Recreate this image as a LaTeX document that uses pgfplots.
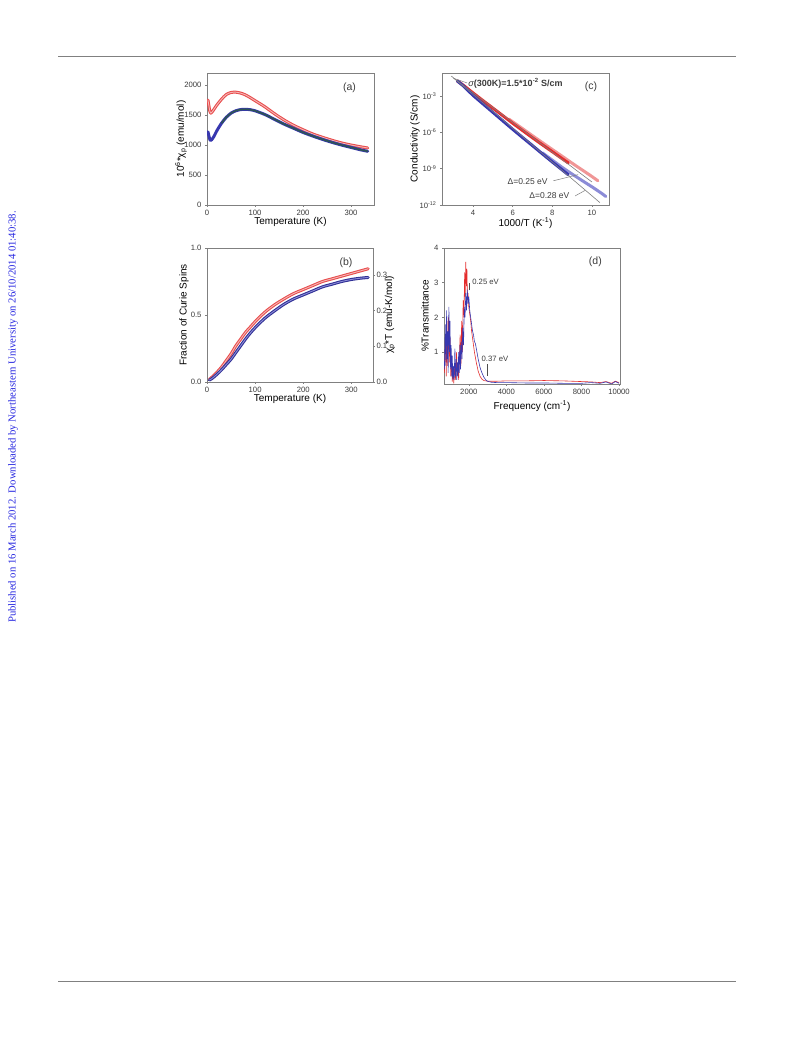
\documentclass[border=0pt]{standalone}
\usepackage{fontspec}
\setmainfont{Liberation Sans}
\newfontfamily\serifside{Liberation Serif}
\usepackage{pgfplots}
\pgfplotsset{compat=1.18}
\definecolor{rd}{RGB}{228,45,45}
\definecolor{rdl}{RGB}{240,150,150}
\definecolor{bl}{RGB}{55,55,175}
\definecolor{bll}{RGB}{140,140,215}
\definecolor{fitc}{RGB}{45,85,85}
\definecolor{txt}{RGB}{60,60,60}
\definecolor{axc}{RGB}{128,128,128}
\definecolor{side}{RGB}{40,40,225}
\pgfplotsset{
 panel/.style={scale only axis, anchor=south west,
  axis line style={axc, line width=0.6pt}, tick style={axc, line width=0.5pt},
  major tick length=2pt, tick align=outside, xtick pos=bottom, ytick pos=left,
  tick label style={font=\fontsize{7.7}{9}\selectfont, text=txt},
  label style={font=\fontsize{9}{10}\selectfont, text=txt},
  /pgf/number format/assume math mode=true, /pgf/number format/1000 sep={},
  scaled ticks=false,
  every axis x label/.style={at={([yshift=-17pt]axis description cs:0.5,0)}, anchor=center},
 },
 ylab/.style={every axis y label/.style={at={([xshift=#1]axis description cs:0,0.5)}, rotate=90, anchor=center}},
 band/.style={line width=3pt, #1, line join=round, line cap=round},
 inner/.style={line width=0.9pt, #1, line join=round, line cap=round},
}
\begin{document}
\begin{tikzpicture}
\useasboundingbox (0pt,0pt) rectangle (793pt,1039pt);
\fill[white] (0pt,0pt) rectangle (793pt,1039pt);
\draw[axc, line width=0.8pt] (58pt,983pt) -- (736pt,983pt);
\draw[axc, line width=0.8pt] (58pt,58pt) -- (736pt,58pt);
\node[rotate=90, text=side, font=\serifside\fontsize{10.7}{12}\selectfont] at (13pt,622pt) {Published on 16 March 2012. Downloaded by Northeastern University on 26/10/2014 01:40:38.};

% ---------------- (a)
\begin{axis}[panel, at={(207pt,834pt)}, width=167pt, height=132pt,
  xmin=0, xmax=348, ymin=0, ymax=2200, xtick={0,100,200,300}, ytick={0,500,1000,1500,2000},
  xlabel={Temperature (K)}, ylabel={10\textsuperscript{6}*χ\textsubscript{p} (emu/mol)}, ylab=-26pt]
\addplot[band=rd!85, smooth] coordinates {(2,1750)(4,1650)(6,1560)(8,1530)(10,1545)(15,1600)(20,1660)(30,1760)(40,1840)(50,1875)(60,1880)(70,1865)(80,1835)(90,1790)(100,1740)(120,1640)(140,1525)(160,1420)(180,1330)(200,1255)(220,1185)(240,1130)(260,1080)(280,1035)(300,1000)(320,970)(335,950)};
\addplot[inner=rdl!70!white, smooth] coordinates {(2,1750)(4,1650)(6,1560)(8,1530)(10,1545)(15,1600)(20,1660)(30,1760)(40,1840)(50,1875)(60,1880)(70,1865)(80,1835)(90,1790)(100,1740)(120,1640)(140,1525)(160,1420)(180,1330)(200,1255)(220,1185)(240,1130)(260,1080)(280,1035)(300,1000)(320,970)(335,950)};
\addplot[band=bl, smooth] coordinates {(2,1220)(4,1150)(6,1090)(8,1075)(10,1090)(15,1150)(20,1230)(30,1360)(40,1460)(50,1530)(60,1570)(70,1590)(80,1595)(90,1588)(100,1570)(120,1510)(140,1430)(160,1350)(180,1280)(200,1210)(220,1150)(240,1095)(260,1045)(280,1000)(300,960)(320,920)(335,895)};
\addplot[line width=1.6pt, fitc, smooth] coordinates {(30,1360)(40,1460)(50,1530)(60,1570)(70,1590)(80,1595)(90,1588)(100,1570)(120,1510)(140,1430)(160,1350)(180,1280)(200,1210)(220,1150)(240,1095)(260,1045)(280,1000)(300,960)(320,920)(335,895)};
\node[font=\fontsize{10.5}{12}\selectfont, text=txt] at (axis description cs:0.853,0.886) {(a)};
\end{axis}

% ---------------- (c)
\begin{axis}[panel, at={(442pt,834pt)}, width=167pt, height=132pt,
  xmin=2.43, xmax=10.86, ymode=log, ymin=1e-12, ymax=0.08,
  xtick={4,6,8,10}, ytick={1e-12,1e-9,1e-6,1e-3}, minor ytick={},
  yticklabels={10\textsuperscript{-12},10\textsuperscript{-9},10\textsuperscript{-6},10\textsuperscript{-3}},
  xlabel={1000/T (K\textsuperscript{-1})}, ylabel={Conductivity (S/cm)}, ylab=-27pt, clip=true,
  every axis x label/.style={at={([yshift=-18pt]axis description cs:0.5,0)}, anchor=center}]
\addplot[band=rdl] coordinates {(5.8,1.26e-5)(6.5,2.0e-6)(7.0,5.25e-7)(7.5,1.41e-7)(8.0,3.8e-8)(8.5,1.05e-8)(9.0,2.82e-9)(9.5,7.94e-10)(10.0,2.24e-10)(10.3,1e-10)};
\addplot[band=rd] coordinates {(3.2,1.78e-2)(3.5,7.94e-3)(4.0,1.78e-3)(4.5,4.17e-4)(5.0,1e-4)(5.5,2.4e-5)(6.0,5.62e-6)(6.5,1.41e-6)(7.0,3.55e-7)(7.5,9.33e-8)(8.0,2.51e-8)(8.5,6.61e-9)(8.8,3.02e-9)};
\addplot[band=bll] coordinates {(7.5,2.0e-8)(8.0,5.01e-9)(8.5,1.26e-9)(9.0,3.55e-10)(9.5,1.05e-10)(10.0,3.16e-11)(10.5,8.91e-12)(10.7,5.01e-12)};
\addplot[band=bl] coordinates {(3.2,1.78e-2)(3.5,7.08e-3)(4.0,1.12e-3)(4.5,2.24e-4)(5.0,4.47e-5)(5.5,8.91e-6)(6.0,1.78e-6)(6.5,3.72e-7)(7.0,7.94e-8)(7.5,1.66e-8)(8.0,3.55e-9)(8.5,7.94e-10)(8.8,3.16e-10)};
\addplot[line width=0.6pt, axc] coordinates {(3.0,3.16e-2)(10.0,7.94e-11)};
\addplot[line width=0.6pt, axc] coordinates {(2.9,4.47e-2)(10.4,1.58e-12)};
\draw[axc, line width=0.5pt] (axis cs:3.05,2.8e-2) -- (axis cs:3.7,1.2e-2);
\node[anchor=west, font=\fontsize{9}{10}\selectfont, text=txt, inner sep=0.5pt] at (axis cs:3.72,1.2e-2) {\textit{σ}\textbf{(300K)=1.5*10\textsuperscript{-2} S/cm}};
\node[font=\fontsize{8.5}{9}\selectfont, text=txt, inner sep=0.5pt] at (axis cs:6.75,8e-11) {Δ=0.25 eV};
\draw[axc, line width=0.5pt] (axis cs:8.05,1e-10) -- (axis cs:9.3,3.2e-10);
\node[font=\fontsize{8.5}{9}\selectfont, text=txt, inner sep=0.5pt] at (axis cs:7.85,5.5e-12) {Δ=0.28 eV};
\draw[axc, line width=0.5pt] (axis cs:9.15,5.6e-12) -- (axis cs:9.65,1.6e-11);
\node[font=\fontsize{10.5}{12}\selectfont, text=txt] at (axis description cs:0.892,0.894) {(c)};
\end{axis}

% ---------------- (b)
\begin{axis}[panel, at={(207pt,657pt)}, width=166pt, height=134pt,
  xmin=0, xmax=345, ymin=0, ymax=1, xtick={0,100,200,300}, ytick={0,0.5,1},
  yticklabels={0.0,0.5,1.0},
  xlabel={Temperature (K)}, ylabel={Fraction of Curie Spins}, ylab=-23pt]
\addplot[band=rd!85, smooth] coordinates {(5,0.02)(10,0.035)(20,0.07)(30,0.11)(40,0.16)(50,0.21)(60,0.27)(70,0.32)(80,0.37)(90,0.41)(100,0.45)(120,0.52)(140,0.575)(160,0.62)(180,0.66)(200,0.69)(220,0.72)(240,0.75)(260,0.77)(280,0.79)(300,0.81)(320,0.83)(335,0.845)};
\addplot[inner=rdl!70!white, smooth] coordinates {(5,0.02)(10,0.035)(20,0.07)(30,0.11)(40,0.16)(50,0.21)(60,0.27)(70,0.32)(80,0.37)(90,0.41)(100,0.45)(120,0.52)(140,0.575)(160,0.62)(180,0.66)(200,0.69)(220,0.72)(240,0.75)(260,0.77)(280,0.79)(300,0.81)(320,0.83)(335,0.845)};
\addplot[band=bl!85!black, smooth] coordinates {(5,0.015)(10,0.025)(20,0.055)(30,0.09)(40,0.13)(50,0.17)(60,0.22)(70,0.27)(80,0.32)(90,0.365)(100,0.405)(120,0.475)(140,0.53)(160,0.58)(180,0.62)(200,0.65)(220,0.68)(240,0.71)(260,0.73)(280,0.75)(300,0.765)(320,0.775)(335,0.78)};
\addplot[inner=bll, smooth] coordinates {(5,0.015)(10,0.025)(20,0.055)(30,0.09)(40,0.13)(50,0.17)(60,0.22)(70,0.27)(80,0.32)(90,0.365)(100,0.405)(120,0.475)(140,0.53)(160,0.58)(180,0.62)(200,0.65)(220,0.68)(240,0.71)(260,0.73)(280,0.75)(300,0.765)(320,0.775)(335,0.78)};
\node[font=\fontsize{10.5}{12}\selectfont, text=txt] at (axis description cs:0.837,0.888) {(b)};
\end{axis}
\begin{axis}[panel, at={(207pt,657pt)}, width=166pt, height=134pt,
  xmin=0, xmax=345, ymin=0, ymax=0.375, axis x line=none, axis y line*=right, ytick pos=right,
  ytick={0,0.1,0.2,0.3}, yticklabels={0.0,0.1,0.2,0.3},
  yticklabel style={xshift=-2pt},
  ylabel={χ\textsubscript{p}*T (emu-K/mol)},
  every axis y label/.style={at={([xshift=17pt]axis description cs:1,0.5)}, rotate=90, anchor=center}]
\addplot[draw=none] coordinates {(0,0)};
\end{axis}

% ---------------- (d)
\begin{axis}[panel, at={(444pt,655pt)}, width=176pt, height=136pt,
  xmin=680, xmax=10050, ymin=0.08, ymax=4, xtick={2000,4000,6000,8000,10000}, ytick={1,2,3,4},
  xlabel={Frequency (cm\textsuperscript{-1})}, ylabel={\%Transmittance}, ylab=-19pt,
  every axis x label/.style={at={([yshift=-22pt]axis description cs:0.5,0)}, anchor=center}]
\addplot[line width=0.6pt, rd] coordinates {(700,0.4)(760,1.5)(800,0.3)(840,1.9)(880,0.6)(920,2.0)(960,0.7)(1000,1.4)(1040,0.3)(1080,0.8)(1120,0.15)(1160,0.5)(1200,0.1)(1250,0.6)(1300,0.2)(1350,1.0)(1380,0.3)(1420,0.6)(1460,0.2)(1500,0.9)(1540,1.5)(1580,0.6)(1620,1.9)(1660,1.0)(1700,2.5)(1740,2.0)(1780,3.3)(1810,2.6)(1840,3.6)(1870,2.9)(1900,3.4)(1930,2.5)(1960,2.7)(2000,2.3)(2050,2.1)(2100,1.9)(2150,1.6)(2200,1.4)(2250,1.2)(2300,1.0)(2350,0.85)(2400,0.7)(2500,0.45)(2600,0.3)(2700,0.22)(2800,0.18)(3000,0.16)(3500,0.16)(4000,0.17)(5000,0.17)(6000,0.18)(7000,0.17)(8000,0.15)(8500,0.14)(9000,0.12)(9300,0.15)(9600,0.1)(9800,0.16)(10000,0.12)};
\addplot[line width=0.6pt, bl] coordinates {(700,0.5)(750,1.8)(780,0.6)(820,2.2)(850,0.8)(880,1.6)(900,0.4)(940,2.3)(970,1.0)(1000,1.9)(1030,0.5)(1060,1.2)(1090,0.3)(1120,0.9)(1150,0.2)(1190,0.6)(1220,0.2)(1260,1.1)(1290,0.3)(1330,0.8)(1360,0.2)(1400,0.7)(1430,0.3)(1460,1.0)(1490,0.4)(1530,1.2)(1560,0.5)(1600,1.3)(1640,0.8)(1680,1.7)(1720,1.2)(1760,2.3)(1800,2.0)(1840,2.7)(1880,2.2)(1920,2.8)(1960,2.4)(2000,2.6)(2050,2.2)(2100,2.0)(2150,1.8)(2200,1.6)(2250,1.5)(2300,1.3)(2350,1.25)(2400,1.1)(2500,0.8)(2600,0.55)(2700,0.4)(2800,0.28)(2900,0.2)(3000,0.16)(3200,0.13)(3500,0.12)(4000,0.12)(5000,0.11)(6000,0.11)(7000,0.1)(8000,0.1)(8500,0.12)(9000,0.1)(9300,0.14)(9600,0.08)(9800,0.15)(10000,0.1)};
\draw[black!70, line width=0.5pt] (axis cs:2016,2.78) -- (axis cs:2016,3.0);
\node[anchor=west, font=\fontsize{7.7}{9}\selectfont, text=txt, inner sep=0.5pt] at (axis cs:2150,3.03) {0.25 eV};
\draw[black!70, line width=0.5pt] (axis cs:2984,0.32) -- (axis cs:2984,0.66);
\node[anchor=west, font=\fontsize{7.7}{9}\selectfont, text=txt, inner sep=0.5pt] at (axis cs:2650,0.8) {0.37 eV};
\node[font=\fontsize{10.5}{12}\selectfont, text=txt] at (axis description cs:0.86,0.897) {(d)};
\end{axis}
\end{tikzpicture}
\end{document}
